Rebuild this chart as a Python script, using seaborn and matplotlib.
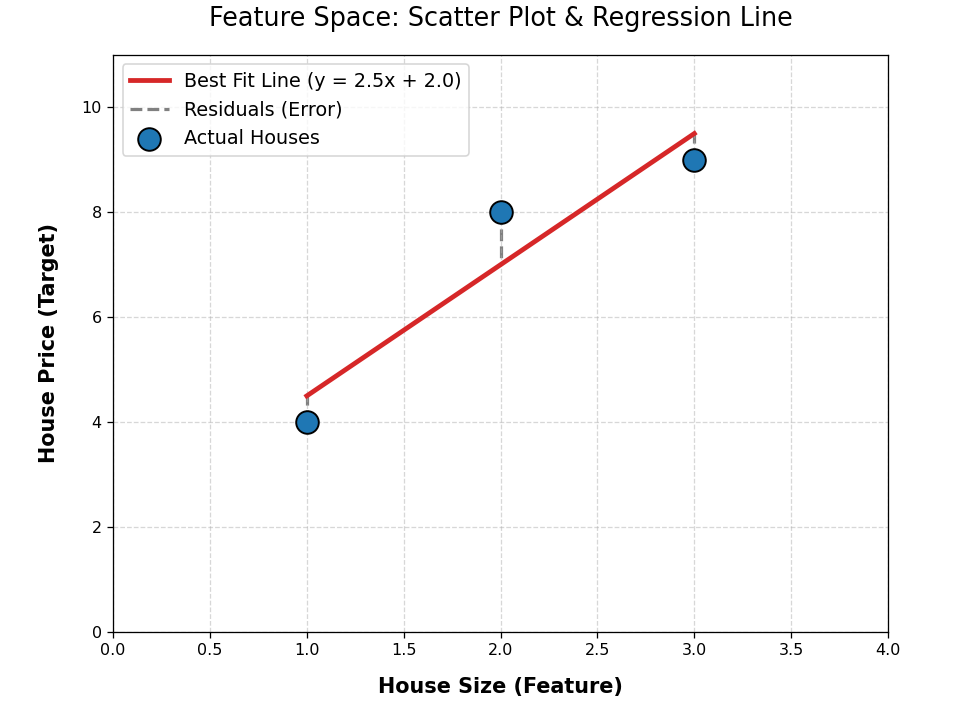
import numpy as np
import pandas as pd
import matplotlib
matplotlib.use("Agg")
import matplotlib.pyplot as plt
import seaborn as sns

# datos de la figura
house_size = [1.0, 2.0, 3.0]
house_price = [4.0, 8.0, 9.0]
slope = 2.5
intercept = 2.0

df = pd.DataFrame({"size": house_size, "price": house_price})
df["pred"] = slope * df["size"] + intercept

DPI = 115
fig, ax = plt.subplots(figsize=(958 / DPI, 703 / DPI), dpi=DPI)
fig.subplots_adjust(left=0.118, right=0.927, top=0.922, bottom=0.101)

sns.lineplot(data=df, x="size", y="pred", color="#d62728", linewidth=3,
             label=f"Best Fit Line (y = {slope}x + {intercept})", ax=ax, zorder=2)

# residuales
for i, row in df.iterrows():
    ax.plot([row["size"], row["size"]], [row["price"], row["pred"]],
            color="gray", linestyle="--", linewidth=2,
            label="Residuals (Error)" if i == 0 else None, zorder=1)

sns.scatterplot(data=df, x="size", y="price", s=200, color="#1f77b4",
                edgecolor="black", linewidth=1.2, label="Actual Houses", ax=ax, zorder=3)

ax.set_xlim(0, 4)
ax.set_ylim(0, 11)
ax.set_xticks(np.arange(0, 4.01, 0.5))
ax.set_yticks(np.arange(0, 11, 2))
ax.grid(True, linestyle="--", alpha=0.5)
ax.set_title("Feature Space: Scatter Plot & Regression Line", fontsize=16, pad=18)
ax.set_xlabel("House Size (Feature)", fontsize=13, fontweight="bold", labelpad=12)
ax.set_ylabel("House Price (Target)", fontsize=13, fontweight="bold", labelpad=14)
ax.legend(loc="upper left", fontsize=12)

fig.savefig("out.png", dpi=DPI)
plt.close(fig)
